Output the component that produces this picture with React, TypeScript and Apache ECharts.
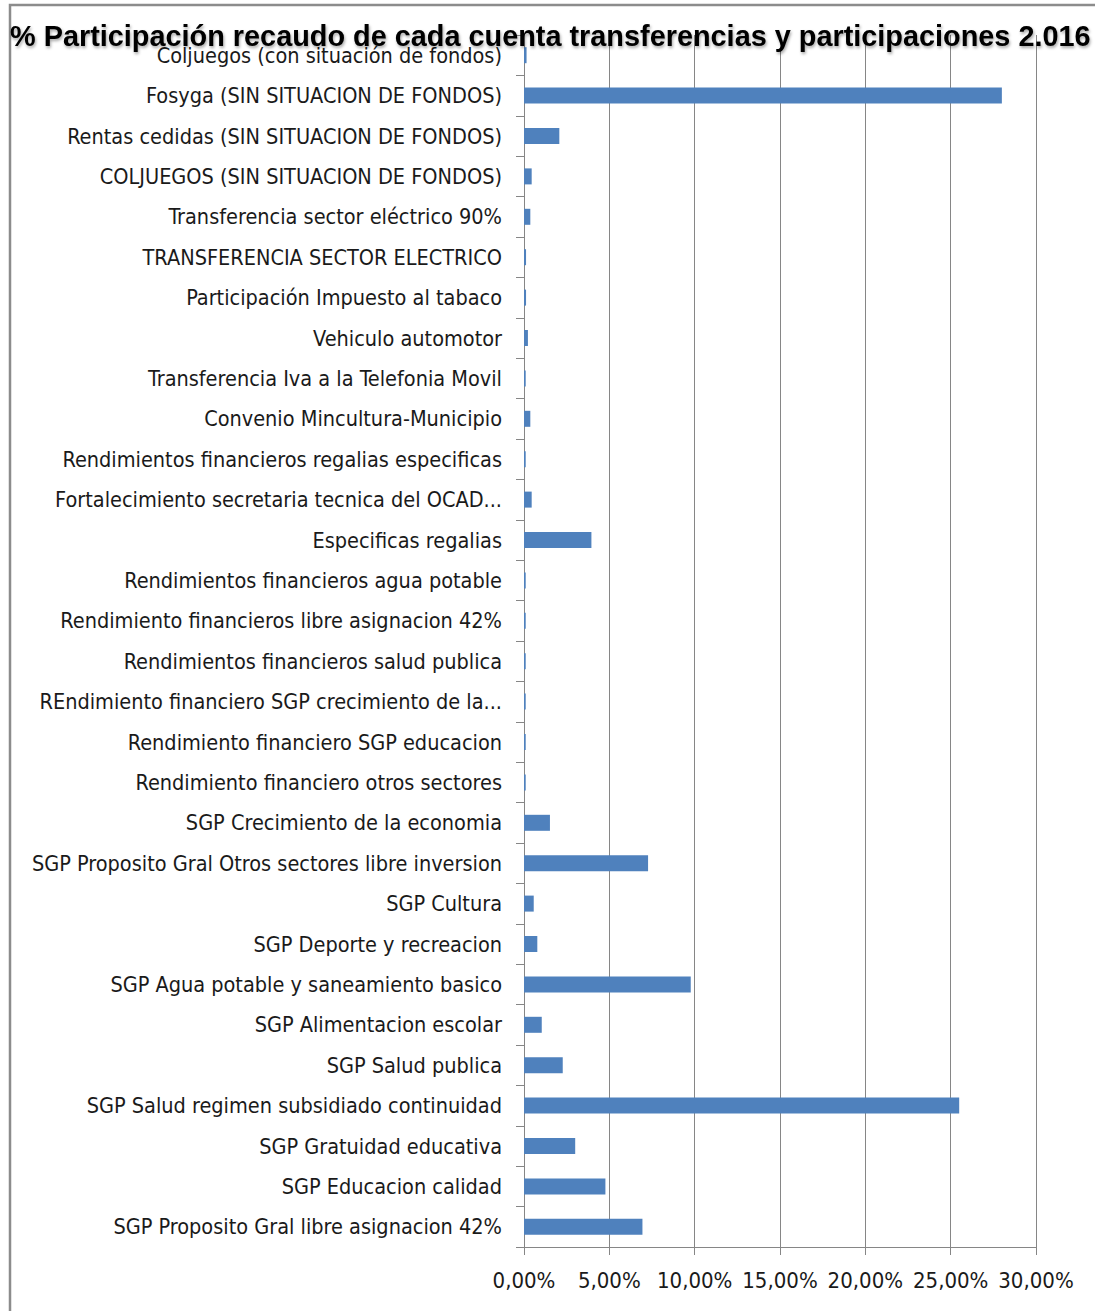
import React, { useEffect, useRef } from "react";
import * as echarts from "echarts";

// Categories listed bottom to top (ECharts category axis starts at the bottom)
const categories = [
  "SGP Proposito Gral libre asignacion 42%",
  "SGP Educacion calidad",
  "SGP Gratuidad educativa",
  "SGP Salud regimen subsidiado continuidad",
  "SGP Salud publica",
  "SGP Alimentacion escolar",
  "SGP Agua potable y saneamiento basico",
  "SGP Deporte y recreacion",
  "SGP Cultura",
  "SGP Proposito Gral Otros sectores libre inversion",
  "SGP Crecimiento de la economia",
  "Rendimiento financiero otros sectores",
  "Rendimiento financiero SGP educacion",
  "REndimiento financiero SGP crecimiento de la...",
  "Rendimientos financieros salud publica",
  "Rendimiento financieros libre asignacion 42%",
  "Rendimientos financieros agua potable",
  "Especificas regalias",
  "Fortalecimiento secretaria tecnica del OCAD...",
  "Rendimientos financieros regalias especificas",
  "Convenio Mincultura-Municipio",
  "Transferencia Iva a la Telefonia Movil",
  "Vehiculo automotor",
  "Participación Impuesto al tabaco",
  "TRANSFERENCIA SECTOR ELECTRICO",
  "Transferencia sector eléctrico 90%",
  "COLJUEGOS (SIN SITUACION DE FONDOS)",
  "Rentas cedidas (SIN SITUACION DE FONDOS)",
  "Fosyga (SIN SITUACION DE FONDOS)",
  "Coljuegos (con situación de fondos)",
];

// Percent participation
const values = [
  6.94, 4.77, 3.0, 25.5, 2.27, 1.04, 9.77, 0.78, 0.57, 7.27, 1.52, 0.1, 0.1,
  0.1, 0.1, 0.1, 0.1, 3.95, 0.45, 0.1, 0.37, 0.1, 0.23, 0.12, 0.12, 0.37,
  0.45, 2.07, 28.0, 0.15,
];

const xMin = 0;
const xMax = 30;
const xStep = 5;

const titleText =
  "% Participación recaudo de cada cuenta transferencias y participaciones 2.016";

export default function App() {
  const ref = useRef<HTMLDivElement>(null);

  useEffect(() => {
    if (!ref.current) return;
    const chart = echarts.init(ref.current, null, { renderer: "svg" });
    const labelFont = "'DejaVu Sans Condensed', 'Liberation Sans', Arial, sans-serif";
    chart.setOption({
      animation: false,
      backgroundColor: "#ffffff",
      graphic: [
        {
          type: "rect",
          z: -1,
          shape: { x: 10, y: 5, width: 1300, height: 1400 },
          style: { fill: "none", stroke: "#8c8c8c", lineWidth: 2.5 },
          silent: true,
        },
        {
          type: "text",
          x: 10,
          y: 20,
          scaleX: 0.962,
          z: 100,
          silent: true,
          style: {
            text: titleText,
            font: "bold 30px 'Liberation Sans', Arial, sans-serif",
            fill: "#000000",
            verticalAlign: "top",
            align: "left",
            textShadowColor: "rgba(0,0,0,0.35)",
            textShadowBlur: 3,
            textShadowOffsetX: 1,
            textShadowOffsetY: 2,
          },
        },
      ],
      grid: { left: 524, right: 59, top: 35, bottom: 64, containLabel: false },
      xAxis: {
        type: "value",
        min: xMin,
        max: xMax,
        interval: xStep,
        axisLine: { show: true, lineStyle: { color: "#868686", width: 1 } },
        axisTick: { show: true, length: 8, lineStyle: { color: "#868686" } },
        splitLine: { show: true, lineStyle: { color: "#868686", width: 1 } },
        axisLabel: {
          margin: 22,
          fontFamily: labelFont,
          fontSize: 22,
          color: "#1a1a1a",
          formatter: (v: number) => v.toFixed(2).replace(".", ",") + "%",
        },
      },
      yAxis: {
        type: "category",
        data: categories,
        axisLine: { show: true, lineStyle: { color: "#868686", width: 1 } },
        axisTick: { show: true, length: 8, lineStyle: { color: "#868686" } },
        axisLabel: {
          margin: 22,
          fontFamily: labelFont,
          fontSize: 21.5,
          color: "#1a1a1a",
        },
      },
      series: [
        {
          type: "bar",
          data: values,
          barWidth: 16,
          itemStyle: {
            color: "#4F81BD",
          },
        },
      ],
    });
    return () => chart.dispose();
  }, []);

  return (
    <div
      ref={ref}
      style={{ position: "absolute", left: 0, top: 0, width: 1095, height: 1311 }}
    />
  );
}
